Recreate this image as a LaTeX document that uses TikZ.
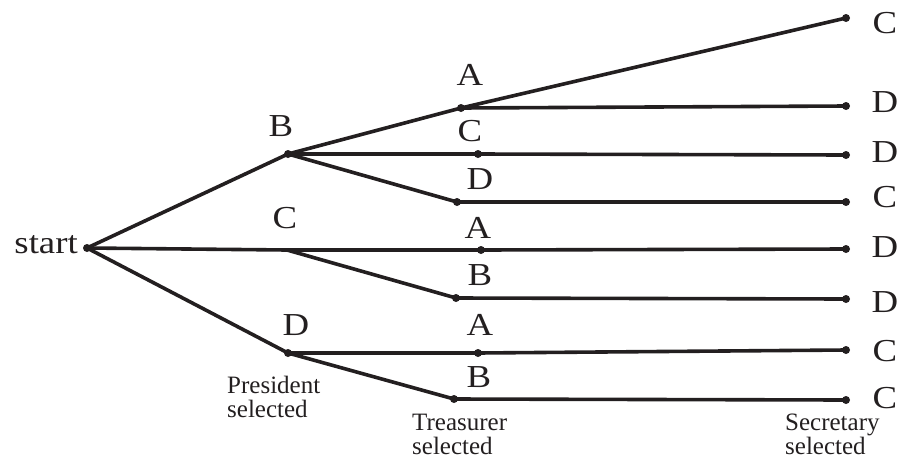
\documentclass[tikz,border=0pt]{standalone}
\usepackage{graphicx}
\usepackage{fontspec}
\setmainfont{Liberation Serif}
\definecolor{ink}{HTML}{231F20}
\newcommand\widetxt[1]{\scalebox{1.15}[1]{#1}}
\begin{document}
\begin{tikzpicture}[x=1pt,y=-1pt,
  dotnode/.style={circle,fill=ink,draw=none,inner sep=0pt,minimum size=8pt},
  branch/.style={draw=ink,line width=3.6pt},
  letter/.style={inner sep=0pt,text=ink,font=\fontsize{32}{32}\selectfont},
  caption/.style={inner sep=0pt,text=ink,align=left,anchor=north west,font=\fontsize{25}{24}\selectfont}]
\useasboundingbox (0,0) rectangle (899,461);
% nodes
\node[dotnode] (s) at (87,248) {};
\node[dotnode] (B) at (288,154) {};
\coordinate (C1) at (287,250);
\node[dotnode] (D1) at (288,353) {};
\node[dotnode] (BA) at (461,108) {};
\node[dotnode] (BC) at (478,154) {};
\node[dotnode] (BD) at (457,202) {};
\node[dotnode] (CA) at (481,250) {};
\node[dotnode] (CB) at (456,298) {};
\node[dotnode] (DA) at (478,353) {};
\node[dotnode] (DB) at (454,399) {};
\node[dotnode] (e1) at (846,18) {};
\node[dotnode] (e2) at (846,106) {};
\node[dotnode] (e3) at (846,155) {};
\node[dotnode] (e4) at (846,202) {};
\node[dotnode] (e5) at (846,249) {};
\node[dotnode] (e6) at (846,299) {};
\node[dotnode] (e7) at (846,350) {};
\node[dotnode] (e8) at (846,400) {};
% branches
\draw[branch] (s.center) -- (B.center);
\draw[branch] (s.center) -- (C1);
\draw[branch] (s.center) -- (D1.center);
\draw[branch] (B.center) -- (BA.center);
\draw[branch] (B.center) -- (BC.center);
\draw[branch] (B.center) -- (BD.center);
\draw[branch] (C1) -- (CA.center);
\draw[branch] (C1) -- (CB.center);
\draw[branch] (D1.center) -- (DA.center);
\draw[branch] (D1.center) -- (DB.center);
\draw[branch] (BA.center) -- (e1.center);
\draw[branch] (BA.center) -- (e2.center);
\draw[branch] (BC.center) -- (e3.center);
\draw[branch] (BD.center) -- (e4.center);
\draw[branch] (CA.center) -- (e5.center);
\draw[branch] (CB.center) -- (e6.center);
\draw[branch] (DA.center) -- (e7.center);
\draw[branch] (DB.center) -- (e8.center);
% labels
\node[letter,anchor=base east] (tstart) at (78,253) {\widetxt{start}};
\node[letter] (lB) at (281,126) {\widetxt{B}};
\node[letter] (lC1) at (285,218) {\widetxt{C}};
\node[letter] (lD1) at (296,325) {\widetxt{D}};
\node[letter] (lBA) at (470,75) {\widetxt{A}};
\node[letter] (lBC) at (470,131) {\widetxt{C}};
\node[letter] (lBD) at (480,179) {\widetxt{D}};
\node[letter] (lCA) at (478,228) {\widetxt{A}};
\node[letter] (lCB) at (480,275) {\widetxt{B}};
\node[letter] (lDA) at (480,325) {\widetxt{A}};
\node[letter] (lDB) at (479,377) {\widetxt{B}};
\node[letter] (r1) at (885,23) {\widetxt{C}};
\node[letter] (r2) at (885,102) {\widetxt{D}};
\node[letter] (r3) at (885,152) {\widetxt{D}};
\node[letter] (r4) at (885,197) {\widetxt{C}};
\node[letter] (r5) at (885,247) {\widetxt{D}};
\node[letter] (r6) at (885,302) {\widetxt{D}};
\node[letter] (r7) at (885,351) {\widetxt{C}};
\node[letter] (r8) at (885,398) {\widetxt{C}};
\node[caption] (cap1) at (227,376) {President\\selected};
\node[caption] (cap2) at (412,414) {Treasurer\\selected};
\node[caption] (cap3) at (785,414) {Secretary\\selected};
\end{tikzpicture}
\end{document}
